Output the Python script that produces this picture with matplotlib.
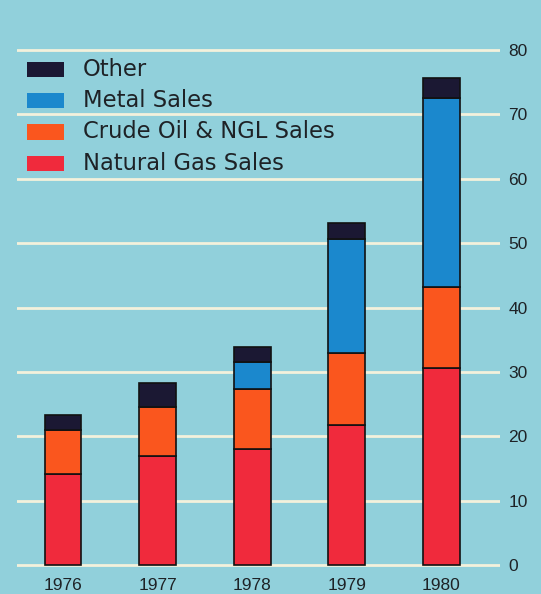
import matplotlib
matplotlib.use("Agg")
import matplotlib.pyplot as plt
from matplotlib.patches import Rectangle
import numpy as np

plt.rcParams['font.family'] = ['Liberation Sans', 'DejaVu Sans']

# Revenue by segment (stacked), 1976-1980
years = ["1976", "1977", "1978", "1979", "1980"]
natural_gas = [14.2, 16.9, 18.0, 21.7, 30.6]
crude_oil_ngl = [6.8, 7.7, 9.3, 11.2, 12.6]
metal_sales = [0.0, 0.0, 4.3, 17.8, 29.3]
other = [2.3, 3.6, 2.2, 2.4, 3.1]

series_names = ["Natural Gas Sales", "Crude Oil & NGL Sales", "Metal Sales", "Other"]
series_colors = ["#F02A3C", "#FA561E", "#1B88CD", "#1B1833"]
y_ticks = [0, 10, 20, 30, 40, 50, 60, 70, 80]

BG = "#91D0DB"
GRID = "#F3F1DC"
INK = "#1E2226"

W, H = 541, 594
fig = plt.figure(figsize=(W / 100, H / 100), dpi=100, facecolor=BG)

# axes placement in pixels
ax_left, ax_right = 17, 500
ylo, yhi = -1, 81
px_per_unit = (565 - 50) / 80.0
ax_bottom_px = 565 + (0 - ylo) * px_per_unit
ax_top_px = 50 - (yhi - 80) * px_per_unit
ax = fig.add_axes([ax_left / W, 1 - ax_bottom_px / H,
                   (ax_right - ax_left) / W, (ax_bottom_px - ax_top_px) / H])
ax.set_facecolor(BG)

x = np.arange(len(years))
bar_w = 0.39
bottom = np.zeros(len(years))
for vals, col in zip([natural_gas, crude_oil_ngl, metal_sales, other], series_colors):
    vals = np.array(vals)
    mask = vals > 0
    ax.bar(x[mask], vals[mask], width=bar_w, bottom=bottom[mask], color=col,
           edgecolor="#111111", linewidth=1.2, zorder=3)
    bottom += vals

ax.set_xlim(-0.486, 4.62)
ax.set_ylim(ylo, yhi)

for v in y_ticks:
    ax.axhline(v, color=GRID, linewidth=2.0, zorder=1)

for s in ax.spines.values():
    s.set_visible(False)

ax.yaxis.tick_right()
ax.set_yticks(y_ticks)
ax.set_yticklabels([str(v) for v in y_ticks])
ax.tick_params(axis="y", length=0, pad=6, labelsize=12.5, labelcolor=INK)
ax.set_xticks(x)
ax.set_xticklabels(years)
ax.tick_params(axis="x", length=0, pad=4.5, labelsize=12.5, labelcolor=INK)

# legend, top to bottom
legend_rows = [("Other", series_colors[3], 69.5),
               ("Metal Sales", series_colors[2], 100.5),
               ("Crude Oil & NGL Sales", series_colors[1], 132.0),
               ("Natural Gas Sales", series_colors[0], 163.5)]
for label, col, yc in legend_rows:
    fig.patches.append(Rectangle((27 / W, 1 - (yc + 7.5) / H), 37 / W, 15 / H,
                                 transform=fig.transFigure, facecolor=col,
                                 edgecolor="none", zorder=4))
    fig.text(83 / W, 1 - yc / H, label, fontsize=16.3, color=INK,
             family=["DejaVu Sans"], va="center", ha="left", zorder=5)

fig.savefig("out.png", dpi=100, facecolor=BG)
